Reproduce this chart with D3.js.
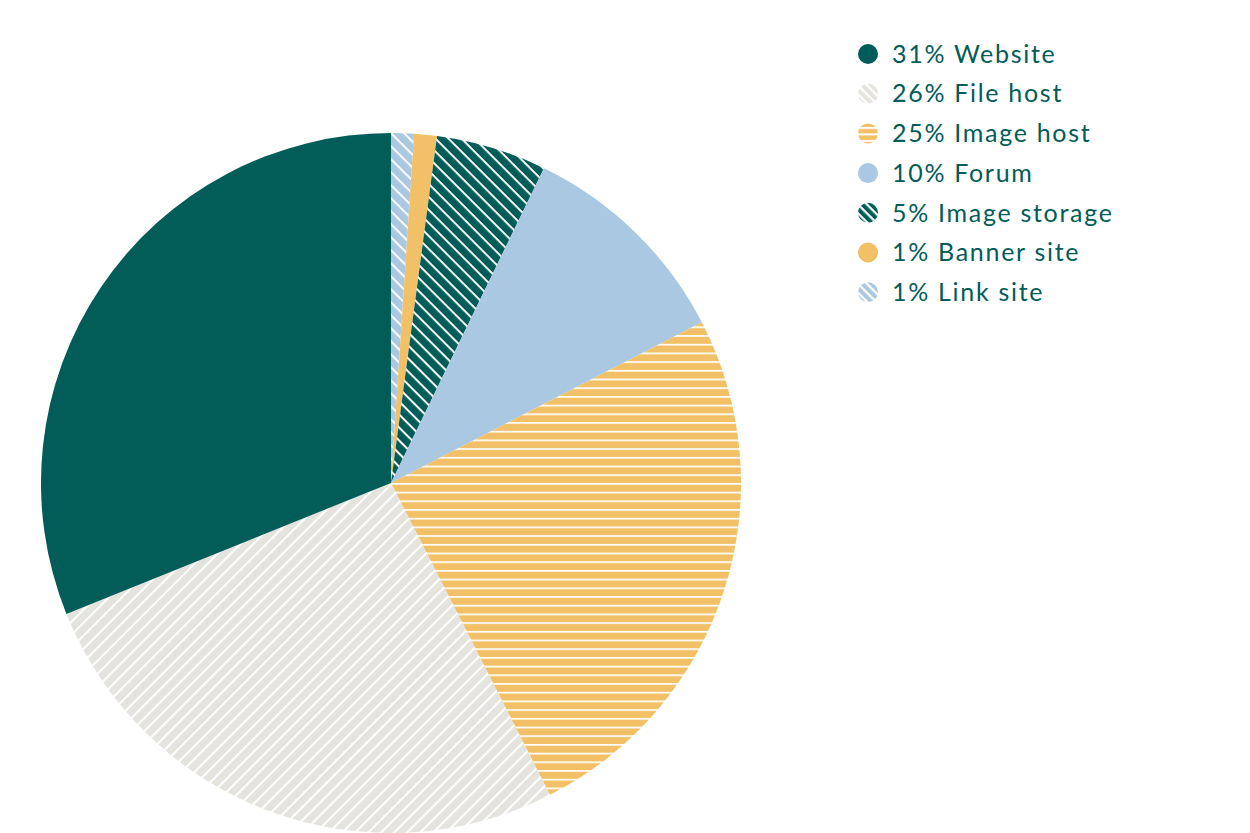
<!DOCTYPE html>
<html>
<head>
<meta charset="utf-8">
<script src="https://cdn.jsdelivr.net/npm/d3@7/dist/d3.min.js"></script>
<style>
  html, body { margin: 0; padding: 0; background: #ffffff; }
  svg { display: block; }
</style>
</head>
<body>
<svg id="chart" width="1250" height="833"></svg>
<script>
// Legend order (as shown in the reference)
const categories = ["Website", "File host", "Image host", "Forum", "Image storage", "Banner site", "Link site"];
const labels = ["31% Website", "26% File host", "25% Image host", "10% Forum", "5% Image storage", "1% Banner site", "1% Link site"];
// Slice sizes estimated from the drawn angles (percent)
const shares = [31.1, 26.4, 25.1, 10.2, 5.1, 1.05, 1.05];
const fillColors = ["#025c58", "#e4e3dd", "#f2c066", "#aac8e1", "#025c58", "#f2c066", "#aac8e1"];
const patterns = ["solid", "diagDown", "horizontal", "solid", "diagUp", "solid", "diagUp"];

const svg = d3.select("#chart");
const defs = svg.append("defs");

const cx = 391, cy = 483, R = 350;

function makePattern(id, kind, color, period, lineW, angle) {
  const pat = defs.append("pattern").attr("id", id)
    .attr("patternUnits", "userSpaceOnUse")
    .attr("width", 20).attr("height", period);
  if (angle !== 0) pat.attr("patternTransform", `rotate(${angle})`);
  pat.append("rect").attr("width", 20).attr("height", period).attr("fill", color);
  pat.append("rect").attr("x", 0).attr("y", 0).attr("width", 20).attr("height", lineW).attr("fill", "#ffffff");
}

// pie patterns and legend patterns
categories.forEach((c, i) => {
  const p = patterns[i];
  if (p === "solid") return;
  if (p === "horizontal") {
    makePattern("pat" + i, p, fillColors[i], 8.7, 1.7, 0);
    makePattern("lpat" + i, p, fillColors[i], 6.5, 2, 0);
  } else {
    makePattern("pat" + i, p, fillColors[i], 9.2, 2, p === "diagUp" ? 45 : -45);
    makePattern("lpat" + i, p, fillColors[i], 6.3, 2.2, 45);
  }
});

function fillFor(i, prefix) {
  return patterns[i] === "solid" ? fillColors[i] : `url(#${prefix}${i})`;
}

// Pie drawn clockwise from 12 o'clock in reverse legend order
const order = d3.range(categories.length).reverse();
const pie = d3.pie().sort(null).value(i => shares[i]);
const arc = d3.arc().innerRadius(0).outerRadius(R);

svg.append("g").attr("transform", `translate(${cx},${cy})`)
  .selectAll("path")
  .data(pie(order))
  .join("path")
  .attr("d", arc)
  .attr("fill", d => fillFor(d.data, "pat"));

// Legend
const legendX = 868, legendY = 54, rowH = 39.7, dotR = 10;
const lg = svg.append("g");
const rows = lg.selectAll("g").data(categories.map((c, i) => i)).join("g")
  .attr("transform", i => `translate(${legendX},${legendY + i * rowH})`);
rows.append("circle").attr("r", dotR).attr("fill", i => fillFor(i, "lpat"));
rows.append("text")
  .attr("x", 24).attr("y", 0).attr("dy", "0.35em")
  .attr("font-family", "Lato, 'Noto Sans', sans-serif")
  .attr("font-size", 25)
  .attr("letter-spacing", 1.7)
  .attr("fill", "#025c58")
  .text(i => labels[i]);
</script>
</body>
</html>
